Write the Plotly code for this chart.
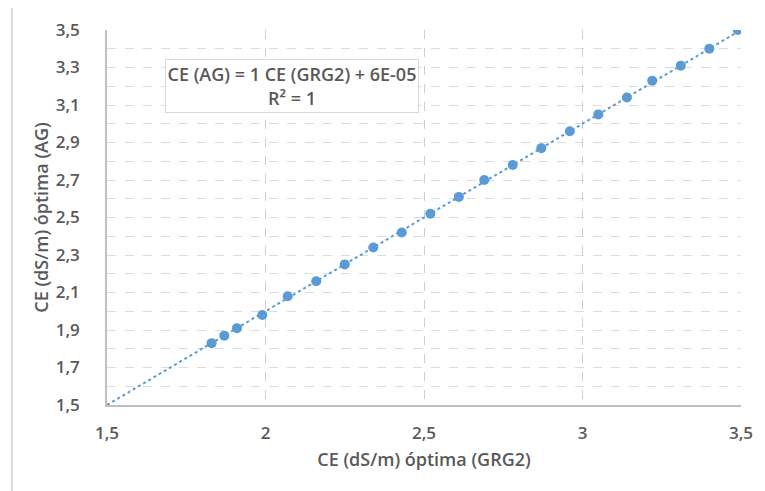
import plotly.graph_objects as go

# Optimal electrical conductivity (dS/m) from the two methods
ce_grg2 = [1.83, 1.87, 1.91, 1.99, 2.07, 2.16, 2.25, 2.34, 2.43, 2.52, 2.61,
           2.69, 2.78, 2.87, 2.96, 3.05, 3.14, 3.22, 3.31, 3.40, 3.49]
ce_ag = [1.83, 1.87, 1.91, 1.98, 2.08, 2.16, 2.25, 2.34, 2.42, 2.52, 2.61,
         2.70, 2.78, 2.87, 2.96, 3.05, 3.14, 3.23, 3.31, 3.40, 3.50]

# Linear fit reported on the chart
slope = 1.0
intercept = 6e-05
fit_range = [1.5, 3.5]

x_tickvals = [1.5, 2, 2.5, 3, 3.5]
x_ticktext = ["1,5", "2", "2,5", "3", "3,5"]
y_tickvals = [1.5, 1.7, 1.9, 2.1, 2.3, 2.5, 2.7, 2.9, 3.1, 3.3, 3.5]
y_ticktext = ["1,5", "1,7", "1,9", "2,1", "2,3", "2,5", "2,7", "2,9", "3,1", "3,3", "3,5"]

BLUE = "#5B9BD5"
TEXT = "#595959"
FONT = "Open Sans"

fig = go.Figure()

fig.add_trace(go.Scatter(
    x=fit_range,
    y=[slope * v + intercept for v in fit_range],
    mode="lines",
    line=dict(color=BLUE, width=2, dash="dot"),
    hoverinfo="skip",
    showlegend=False,
))

fig.add_trace(go.Scatter(
    x=ce_grg2,
    y=ce_ag,
    mode="markers",
    marker=dict(color=BLUE, size=10, line=dict(width=0)),
    showlegend=False,
))

tick_font = dict(family=FONT, size=17, color=TEXT, weight=600)
title_font = dict(family=FONT, size=18, color=TEXT, weight=600)

fig.update_layout(
    width=765,
    height=491,
    margin=dict(l=107, r=19, t=30, b=86),
    paper_bgcolor="white",
    plot_bgcolor="white",
    font=dict(family=FONT, size=17, color=TEXT, weight=600),
    xaxis=dict(
        range=[1.5, 3.5],
        tickvals=x_tickvals,
        ticktext=x_ticktext,
        showgrid=True,
        gridcolor="#CFCFCF",
        griddash="dash",
        gridwidth=1,
        showline=True,
        linecolor="#BFBFBF",
        linewidth=1.5,
        zeroline=False,
        ticks="",
        ticklabelstandoff=12,
        tickfont=tick_font,
        title=dict(text="CE (dS/m) óptima (GRG2)", font=title_font, standoff=10),
    ),
    yaxis=dict(
        range=[1.5, 3.5],
        tickvals=y_tickvals,
        ticktext=y_ticktext,
        showgrid=True,
        gridcolor="#DCDCDC",
        griddash="dash",
        gridwidth=1,
        minor=dict(dtick=0.1, tick0=1.5, showgrid=True, gridcolor="#DCDCDC",
                   griddash="dash", gridwidth=1),
        showline=True,
        linecolor="#BFBFBF",
        linewidth=1.5,
        zeroline=False,
        ticks="",
        ticklabelstandoff=22,
        tickfont=tick_font,
        title=dict(text="CE (dS/m) óptima (AG)", font=title_font, standoff=2),
    ),
    annotations=[dict(
        x=2.085, y=3.204, xref="x", yref="y",
        text="CE (AG) = 1 CE (GRG2) + 6E-05<br>R² = 1",
        showarrow=False,
        font=dict(size=18, color=TEXT, family=FONT, weight=600),
        align="center",
        bgcolor="white",
        bordercolor="#D9D9D9",
        borderwidth=1,
        width=250,
        height=50,
    )],
    shapes=[dict(
        type="line", xref="paper", yref="paper",
        x0=-0.150, x1=-0.150, y0=-0.23, y1=1.058,
        line=dict(color="#D9D9D9", width=2),
    )],
)

fig.write_html("out.html")
